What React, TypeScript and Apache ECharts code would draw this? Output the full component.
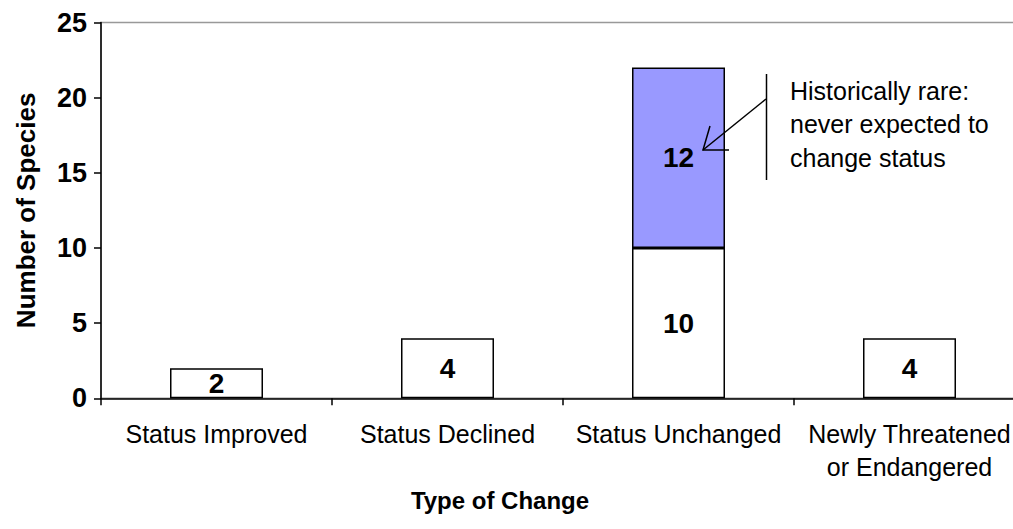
import React, { useEffect, useRef } from "react";
import * as echarts from "echarts";

const categories = [
  "Status Improved",
  "Status Declined",
  "Status Unchanged",
  "Newly Threatened\nor Endangered",
];
const baseCounts = [2, 4, 10, 4];
const rareCounts: (number | null)[] = [null, null, 12, null];
const yTicks = { min: 0, max: 25, interval: 5 };
const annotationLines = [
  "Historically rare:",
  "never expected to",
  "change status",
];

const FONT = "'Liberation Sans', Arial, sans-serif";

export default function App() {
  const ref = useRef<HTMLDivElement>(null);
  useEffect(() => {
    if (!ref.current) return;
    const chart = echarts.init(ref.current, undefined, { renderer: "svg" });
    const labelStyle = {
      show: true,
      position: "inside",
      fontFamily: FONT,
      fontWeight: "bold",
      fontSize: 28,
      color: "#000",
    };
    chart.setOption({
      animation: false,
      backgroundColor: "#ffffff",
      textStyle: { fontFamily: FONT },
      grid: {
        left: 101,
        top: 22.5,
        bottom: 130.7,
        right: 0,
        show: true,
        borderColor: "#999999",
        borderWidth: 1.5,
        backgroundColor: "transparent",
      },
      xAxis: {
        type: "category",
        data: categories,
        name: "Type of Change",
        nameLocation: "middle",
        nameGap: 85,
        nameTextStyle: {
          fontFamily: FONT,
          fontWeight: "bold",
          fontSize: 24,
          color: "#000",
          padding: [0, 126, 0, 0],
        },
        axisLine: { lineStyle: { color: "#000", width: 1.5 } },
        axisTick: { show: true, length: 7, lineStyle: { color: "#000", width: 1.5 } },
        axisLabel: {
          fontFamily: FONT,
          fontSize: 25,
          color: "#000",
          margin: 19,
          lineHeight: 33,
          interval: 0,
        },
      },
      yAxis: {
        type: "value",
        min: yTicks.min,
        max: yTicks.max,
        interval: yTicks.interval,
        name: "Number of Species",
        nameLocation: "middle",
        nameGap: 62,
        nameTextStyle: { fontFamily: FONT, fontWeight: "bold", fontSize: 26, color: "#000" },
        axisLine: { show: true, lineStyle: { color: "#000", width: 1.5 } },
        axisTick: { show: true, length: 7, lineStyle: { color: "#000", width: 1.5 } },
        axisLabel: { fontFamily: FONT, fontWeight: "bold", fontSize: 27, color: "#000", margin: 14 },
        splitLine: { show: false },
      },
      series: [
        {
          type: "bar",
          stack: "total",
          data: baseCounts,
          barWidth: 93,
          itemStyle: { color: "#ffffff", borderColor: "#000", borderWidth: 1.5 },
          label: labelStyle,
        },
        {
          type: "bar",
          stack: "total",
          data: rareCounts,
          barWidth: 93,
          itemStyle: { color: "#9999ff", borderColor: "#000", borderWidth: 1.5 },
          label: labelStyle,
        },
      ],
      graphic: [
        {
          type: "line",
          z: 100,
          shape: { x1: 766.5, y1: 74, x2: 766.5, y2: 180 },
          style: { stroke: "#000", lineWidth: 1.5 },
        },
        {
          type: "line",
          z: 100,
          shape: { x1: 766, y1: 99, x2: 703, y2: 150 },
          style: { stroke: "#000", lineWidth: 1.5 },
        },
        {
          type: "polyline",
          z: 100,
          shape: { points: [[710, 126], [703, 150], [729, 150]] },
          style: { stroke: "#000", lineWidth: 1.5, fill: null },
        },
        ...annotationLines.map((t, i) => ({
          type: "text",
          z: 100,
          left: 790,
          top: 78 + i * 33.5,
          style: {
            text: t,
            fontFamily: FONT,
            fontSize: 25,
            fill: "#000",
          },
        })),
      ],
    });
    return () => chart.dispose();
  }, []);
  return (
    <div
      ref={ref}
      style={{ position: "fixed", left: 0, top: 0, width: 1025.4, height: 529 }}
    />
  );
}
